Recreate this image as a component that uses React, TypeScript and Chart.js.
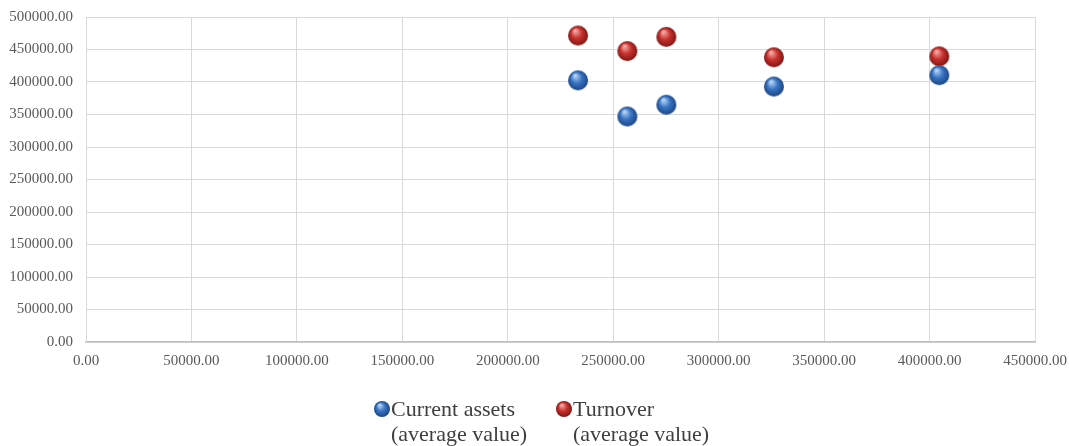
import React, { useEffect, useRef } from "react";
import { Chart, registerables } from "chart.js";

Chart.register(...registerables);

// Average values per observation
const assetsX = [233300, 256700, 275200, 326200, 404600];
const assetsY = [402500, 347000, 365000, 393000, 410500];
const turnoverX = [233300, 256700, 275200, 326200, 404600];
const turnoverY = [471500, 447500, 469500, 438000, 439500];

const seriesNames = [
  ["Current assets", "(average value)"],
  ["Turnover", "(average value)"],
];

const FONT = "'Liberation Serif', 'Times New Roman', serif";

// Shaded ball used as point marker
function makeSphere(r: number, light: string, mid: string, dark: string): HTMLCanvasElement {
  const size = r * 2 + 2;
  const c = document.createElement("canvas");
  c.width = size;
  c.height = size;
  const ctx = c.getContext("2d")!;
  const cx = size / 2;
  const cy = size / 2;
  const g = ctx.createRadialGradient(cx - r * 0.3, cy - r * 0.5, r * 0.08, cx, cy, r);
  g.addColorStop(0, light);
  g.addColorStop(0.5, mid);
  g.addColorStop(1, dark);
  ctx.beginPath();
  ctx.arc(cx, cy, r, 0, Math.PI * 2);
  ctx.fillStyle = g;
  ctx.fill();
  return c;
}

// Keep the plot area fixed regardless of tick label overhang
function noOverhang(scale: any) {
  scale.paddingLeft = 0;
  scale.paddingRight = 0;
  scale.paddingTop = 0;
  scale.paddingBottom = 0;
}

export default function App() {
  const ref = useRef<HTMLCanvasElement | null>(null);

  useEffect(() => {
    const canvas = ref.current;
    if (!canvas) return;

    const blue = makeSphere(10, "#b4d4f5", "#3874c4", "#1d4683");
    const red = makeSphere(10, "#f5aaa6", "#c9312d", "#7e1715");
    const blueSmall = makeSphere(8, "#b4d4f5", "#3874c4", "#1d4683");
    const redSmall = makeSphere(8, "#f5aaa6", "#c9312d", "#7e1715");

    const legendPlugin = {
      id: "twoLineLegend",
      afterDraw(chart: any) {
        const ctx = chart.ctx as CanvasRenderingContext2D;
        const items = [
          { img: blueSmall, cx: 382, text: seriesNames[0] },
          { img: redSmall, cx: 564, text: seriesNames[1] },
        ];
        ctx.save();
        ctx.font = `22px ${FONT}`;
        ctx.fillStyle = "#404040";
        ctx.textBaseline = "alphabetic";
        ctx.textAlign = "left";
        for (const it of items) {
          ctx.drawImage(it.img, it.cx - it.img.width / 2, 409 - it.img.height / 2);
          ctx.fillText(it.text[0], it.cx + 9, 416);
          ctx.fillText(it.text[1], it.cx + 9, 441);
        }
        ctx.restore();
      },
    };

    const chart = new Chart(canvas, {
      type: "scatter",
      data: {
        datasets: [
          {
            label: seriesNames[0].join(" "),
            data: assetsX.map((x, i) => ({ x, y: assetsY[i] })),
            pointStyle: blue as any,
            pointRadius: 10,
            pointHoverRadius: 10,
            backgroundColor: "#3874c4",
          },
          {
            label: seriesNames[1].join(" "),
            data: turnoverX.map((x, i) => ({ x, y: turnoverY[i] })),
            pointStyle: red as any,
            pointRadius: 10,
            pointHoverRadius: 10,
            backgroundColor: "#c9312d",
          },
        ],
      },
      options: {
        responsive: false,
        animation: false,
        devicePixelRatio: 1,
        layout: { padding: { top: 17, right: 34, bottom: 74, left: 0 } },
        plugins: {
          legend: { display: false },
          tooltip: { enabled: false },
        },
        scales: {
          x: {
            type: "linear",
            min: 0,
            max: 450000,
            afterFit(scale: any) {
              scale.height = 30;
              noOverhang(scale);
            },
            ticks: {
              stepSize: 50000,
              padding: 10,
              color: "#595959",
              font: { family: FONT, size: 15 },
              maxRotation: 0,
              callback: (v: any) => Number(v).toFixed(2),
            },
            grid: { color: "#d9d9d9", drawTicks: false },
            border: { color: "#bfbfbf", width: 1.5 },
          },
          y: {
            type: "linear",
            min: 0,
            max: 500000,
            afterFit(scale: any) {
              scale.width = 86;
              noOverhang(scale);
            },
            ticks: {
              stepSize: 50000,
              padding: 13,
              color: "#595959",
              font: { family: FONT, size: 15 },
              callback: (v: any) => Number(v).toFixed(2),
            },
            grid: { color: "#d9d9d9", drawTicks: false },
            border: { color: "#d9d9d9" },
          },
        },
      },
      plugins: [legendPlugin],
    });

    return () => chart.destroy();
  }, []);

  return (
    <div style={{ position: "absolute", left: 0, top: 0, width: 1069, height: 446, background: "#fff" }}>
      <canvas ref={ref} width={1069} height={446} />
    </div>
  );
}
